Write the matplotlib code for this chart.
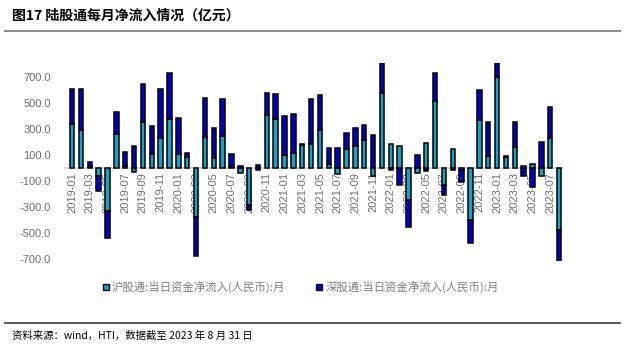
import numpy as np
import matplotlib
matplotlib.use("Agg")
import matplotlib.pyplot as plt
from matplotlib.lines import Line2D

plt.rcParams['font.family'] = ['Noto Sans CJK SC', 'DejaVu Sans']

# --- data (亿元), monthly 2019-01 .. 2023-08 ---
months = [f"{y}-{m:02d}" for y in range(2019, 2024) for m in range(1, 13)][:56]

sh = [336, 290, 5, -62, -330, 259, 15, -36, 354, 105, 226, 374,
      108, 79, -377, 233, 77, 244, 2, -38, -290, -15, 403, 372,
      100, 110, 174, 179, 292, 31, -46, 141, 169, 213, -64, 574,
      182, 169, -250, -40, 190, 515, -130, 141, -20, -403, 367, 92,
      695, 85, 159, 14, 26, -60, 231, -479]
sz = [269, 313, 39, -117, -208, 167, 105, 164, 290, 215, 379, 357,
      277, 36, -305, 300, 226, 284, 103, 12, -38, 18, 174, 197,
      297, 300, 11, 349, 264, 123, 151, 128, 136, 115, 249, 430,
      -18, -133, -204, 100, -23, 211, -80, -18, -88, -174, 233, 259,
      718, 7, 192, -62, -150, 195, 236, -418]

names = ["沪股通:当日资金净流入(人民币):月", "深股通:当日资金净流入(人民币):月"]
colors = ["#1BA1C6", "#0000CC"]

yticks = [-700, -500, -300, -100, 100, 300, 500, 700]

fig = plt.figure(figsize=(6.25, 3.55), dpi=100)
ax = fig.add_axes([65 / 625, 0.2656, 498 / 625, 0.557])

# spines first: moving a spine resets the tick settings
for s in ["top", "right", "left"]:
    ax.spines[s].set_visible(False)
ax.spines["bottom"].set_position(("data", 0))
ax.spines["bottom"].set_color("#D9D9D9")
ax.spines["bottom"].set_linewidth(1.5)
ax.spines["bottom"].set_zorder(2)

x = np.arange(len(months))
pos_base = np.zeros(len(months))
neg_base = np.zeros(len(months))
for vals, c in zip([sh, sz], colors):
    v = np.array(vals, dtype=float)
    base = np.where(v >= 0, pos_base, neg_base)
    ax.bar(x, v, bottom=base, width=0.5, color=c, edgecolor="black", linewidth=1.1, zorder=3)
    pos_base += np.where(v >= 0, v, 0)
    neg_base += np.where(v < 0, v, 0)

ax.set_xlim(-0.8, 55.45)
ax.set_ylim(-715, 805)
ax.set_yticks(yticks)
ax.set_yticklabels([f"{t:.1f}" for t in yticks], fontfamily="Liberation Sans",
                   fontsize=8, color="#6E6E6E")
ax.set_xticks(x[::2])
ax.set_xticklabels(months[::2], rotation=90, fontfamily="Liberation Sans",
                   fontsize=8, color="#6E6E6E")
ax.tick_params(axis="both", length=0)
ax.tick_params(axis="y", pad=10)
ax.tick_params(axis="x", pad=3)
for lbl in ax.get_xticklabels():
    lbl.set_zorder(5)

# legend
handles = [Line2D([], [], marker="s", linestyle="none", markersize=5,
                  markerfacecolor=c, markeredgecolor="black", markeredgewidth=1)
           for c in colors]
fig.legend(handles, names, loc="center", bbox_to_anchor=(0.48, 1 - 287 / 355),
           ncol=2, frameon=False, fontsize=8.2, labelcolor="#7F7F7F",
           handletextpad=0.1, columnspacing=2.6, handlelength=0.8)

# title and source
fig.text(12 / 625, 1 - 16 / 355, "图17 陆股通每月净流入情况（亿元）", fontsize=10,
         fontweight="bold", va="center", ha="left")
fig.add_artist(Line2D([5 / 625, 620 / 625], [1 - 31 / 355] * 2, color="#8C8C8C", lw=1.5))
fig.add_artist(Line2D([5 / 625, 620 / 625], [1 - 323 / 355] * 2, color="#404040", lw=1.2))
fig.text(12 / 625, 1 - 336 / 355, "资料来源：wind，HTI，数据截至 2023 年 8 月 31 日",
         fontsize=7.5, va="center", ha="left")

fig.savefig("out.png", dpi=100)
